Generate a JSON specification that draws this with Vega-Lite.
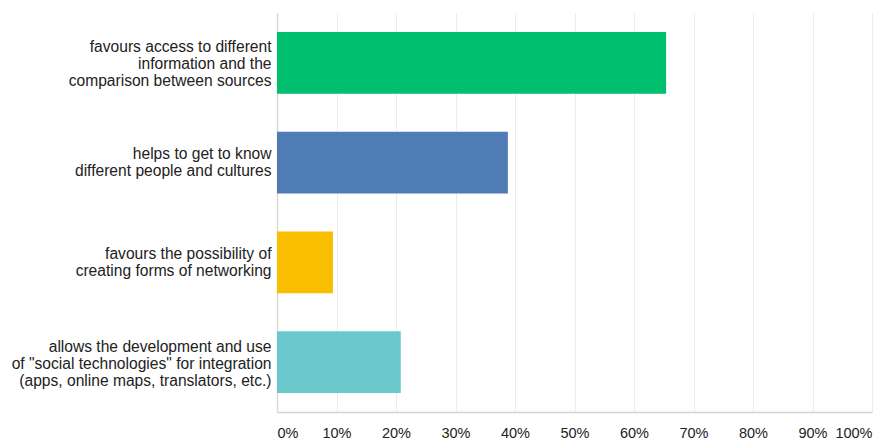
{
  "$schema": "https://vega.github.io/schema/vega-lite/v6.json",
  "autosize": {"type": "none"},
  "padding": {"left": 277, "top": 13, "right": 12, "bottom": 28},
  "width": 595,
  "height": 399,
  "background": "white",
  "data": {
    "values": [
      {"answer": "favours access to different|information and the|comparison between sources", "share": 0.654, "order": 1},
      {"answer": "helps to get to know|different people and cultures", "share": 0.388, "order": 2},
      {"answer": "favours the possibility of|creating forms of networking", "share": 0.094, "order": 3},
      {"answer": "allows the development and use|of \"social technologies\" for integration|(apps, online maps, translators, etc.)", "share": 0.208, "order": 4}
    ]
  },
  "mark": {"type": "bar"},
  "encoding": {
    "y": {
      "field": "answer",
      "type": "nominal",
      "sort": {"field": "order"},
      "scale": {"paddingInner": 0.38, "paddingOuter": 0.19},
      "axis": {
        "title": null,
        "labelExpr": "split(datum.label, '|')",
        "labelFont": "Liberation Sans",
        "labelFontSize": 15.6,
        "labelColor": "#222222",
        "labelLineHeight": 17,
        "labelPadding": 6,
        "labelLimit": 300,
        "labelOffset": {"condition": {"test": "indexof(datum.value, '|') != lastindexof(datum.value, '|')", "value": -15.5}, "value": -8.5},
        "ticks": false,
        "domainColor": "#d9d9d9",
        "domainWidth": 1.5,
        "grid": false
      }
    },
    "x": {
      "field": "share",
      "type": "quantitative",
      "scale": {"domain": [0, 1], "nice": false},
      "axis": {
        "title": null,
        "format": ".0%",
        "values": [0, 0.1, 0.2, 0.3, 0.4, 0.5, 0.6, 0.7, 0.8, 0.9, 1],
        "labelFont": "Liberation Sans",
        "labelFontSize": 14.5,
        "labelColor": "#222222",
        "labelPadding": 14,
        "labelFlush": true,
        "ticks": false,
        "domainColor": "#d4d4d4",
        "domainWidth": 1.5,
        "grid": true,
        "gridColor": "#ececec",
        "gridWidth": 1
      }
    },
    "color": {
      "field": "answer",
      "type": "nominal",
      "sort": {"field": "order"},
      "scale": {"range": ["#00bf6f", "#507cb6", "#f9be00", "#6bc8cd"]},
      "legend": null
    }
  },
  "config": {"view": {"stroke": null}}
}
